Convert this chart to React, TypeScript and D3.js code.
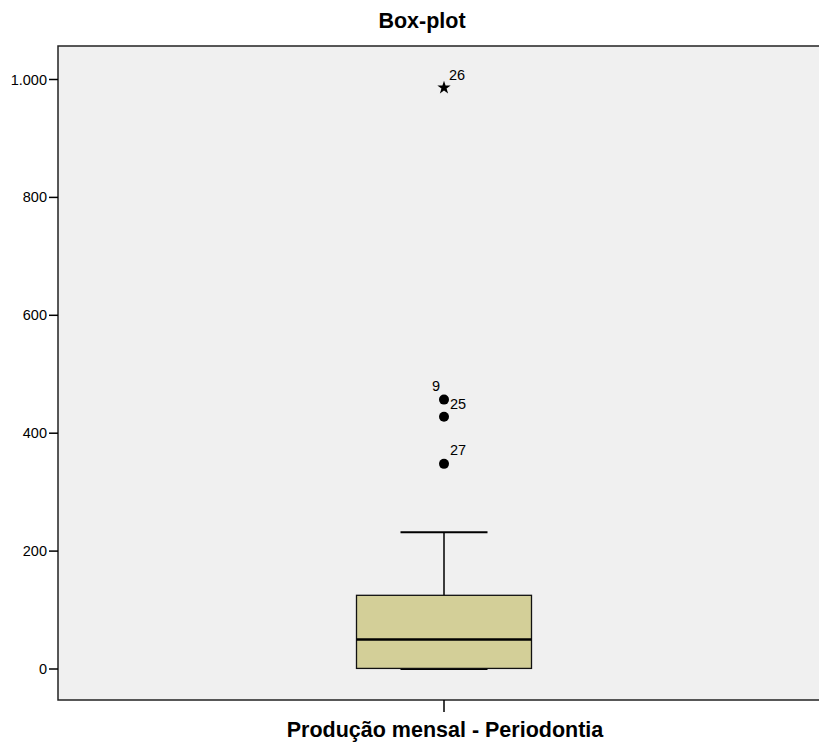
import React from "react";
import * as d3 from "d3";

const categories = ["Produção mensal - Periodontia"];
const boxStats = { min: 0, q1: 1, median: 50, q3: 125, max: 232 };
const outlierIds = ["9", "25", "27"];
const outlierValues = [457, 428, 348];
const extremeIds = ["26"];
const extremeValues = [986];
const yTicks = [0, 200, 400, 600, 800, 1000];

const W = 819;
const H = 742;
const plot = { left: 58, right: 830, top: 46, bottom: 700 };

export default function App() {
  const y = d3.scaleLinear().domain([0, 1000]).range([669, 79.5]);
  const x = d3.scaleBand().domain(categories).range([plot.left, plot.right]).paddingInner(0).paddingOuter(0);
  const fmt = (v: number) => d3.format(",")(v).replace(/,/g, ".");
  const cat = categories[0];
  const cx = (x(cat) as number) + x.bandwidth() / 2;
  const boxW = 175;
  const capW = 87;
  const star = d3.symbol().type(d3.symbolStar).size(55)() as string;
  const font = "'Liberation Sans', Arial, sans-serif";

  return (
    <svg width={W} height={H} style={{ position: "absolute", left: 0, top: 0 }} fontFamily={font}>
      <rect x={0} y={0} width={W} height={H} fill="#fff" />
      <text x={422} y={28} textAnchor="middle" fontSize={21.5} fontWeight="bold">Box-plot</text>
      <rect x={plot.left} y={plot.top} width={plot.right - plot.left} height={plot.bottom - plot.top} fill="#f0f0f0" stroke="#222" strokeWidth={1.5} />
      {yTicks.map((t) => (
        <g key={t}>
          <line x1={49} x2={plot.left} y1={y(t)} y2={y(t)} stroke="#000" strokeWidth={1.5} />
          <text x={47} y={y(t) + 5} textAnchor="end" fontSize={14.5}>{fmt(t)}</text>
        </g>
      ))}
      <line x1={cx} x2={cx} y1={plot.bottom} y2={plot.bottom + 12} stroke="#000" strokeWidth={1.5} />
      <text x={cx + 1} y={737} textAnchor="middle" fontSize={21.5} fontWeight="bold">{cat}</text>
      <line x1={cx} x2={cx} y1={y(boxStats.max)} y2={y(boxStats.q3)} stroke="#000" strokeWidth={1.5} />
      <line x1={cx - capW / 2} x2={cx + capW / 2} y1={y(boxStats.max)} y2={y(boxStats.max)} stroke="#000" strokeWidth={2} />
      <line x1={cx - capW / 2} x2={cx + capW / 2} y1={y(boxStats.min)} y2={y(boxStats.min)} stroke="#000" strokeWidth={2} />
      <rect x={cx - boxW / 2} y={y(boxStats.q3)} width={boxW} height={y(boxStats.q1) - y(boxStats.q3)} fill="#d3cf98" stroke="#111" strokeWidth={1.3} />
      <line x1={cx - boxW / 2} x2={cx + boxW / 2} y1={y(boxStats.median)} y2={y(boxStats.median)} stroke="#000" strokeWidth={2.5} />
      {outlierValues.map((v, i) => (
        <circle key={i} cx={cx} cy={y(v)} r={5} fill="#000" />
      ))}
      {outlierIds.map((id, i) => {
        const left = id === "9";
        return (
          <text key={id} x={left ? cx - 4 : cx + 6} y={y(outlierValues[i]) + (id === "25" ? -8 : -9)} textAnchor={left ? "end" : "start"} fontSize={14.5}>{id}</text>
        );
      })}
      {extremeValues.map((v, i) => (
        <g key={i}>
          <path d={star} transform={`translate(${cx},${y(v)})`} fill="#000" />
          <text x={cx + 5} y={y(v) - 8} fontSize={14.5}>{extremeIds[i]}</text>
        </g>
      ))}
    </svg>
  );
}
